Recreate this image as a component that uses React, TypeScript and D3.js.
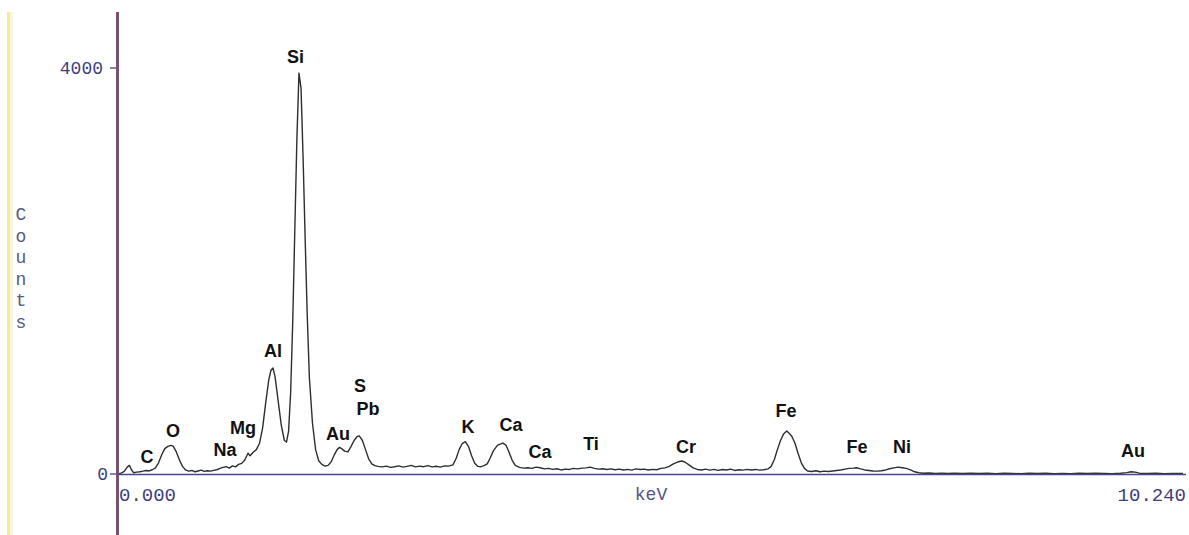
import React from "react";
import * as d3 from "d3";

const W = 1189;
const H = 535;

// energy (keV), counts
const spectrum: [number, number][] = [
  [0.0, 0], [0.03, 8], [0.06, 25], [0.09, 70], [0.11, 85], [0.13, 40], [0.15, 12], [0.18, 18],
  [0.21, 22], [0.24, 28], [0.27, 35], [0.3, 30], [0.33, 42], [0.36, 60], [0.39, 110], [0.42, 190],
  [0.45, 250], [0.48, 272], [0.51, 282], [0.53, 275], [0.56, 220], [0.59, 140], [0.62, 75], [0.65, 40],
  [0.68, 28], [0.71, 35], [0.74, 22], [0.77, 30], [0.8, 38], [0.83, 26], [0.86, 32], [0.89, 28],
  [0.92, 36], [0.95, 42], [0.98, 55], [1.01, 65], [1.04, 72], [1.07, 58], [1.1, 80], [1.13, 70],
  [1.16, 95], [1.19, 105], [1.22, 140], [1.25, 205], [1.27, 180], [1.3, 215], [1.33, 240], [1.36, 300],
  [1.39, 450], [1.42, 700], [1.45, 930], [1.47, 1020], [1.49, 1045], [1.51, 960], [1.54, 720], [1.57, 480],
  [1.6, 330], [1.62, 315], [1.64, 420], [1.66, 800], [1.68, 1500], [1.7, 2400], [1.72, 3300], [1.74, 3950],
  [1.76, 3800], [1.78, 3100], [1.8, 2300], [1.82, 1550], [1.84, 950], [1.87, 500], [1.9, 240], [1.93, 130],
  [1.96, 95], [1.99, 78], [2.02, 85], [2.05, 120], [2.08, 190], [2.11, 245], [2.13, 262], [2.15, 250],
  [2.18, 225], [2.21, 218], [2.24, 270], [2.27, 330], [2.3, 370], [2.32, 375], [2.35, 330], [2.38, 240],
  [2.41, 150], [2.44, 100], [2.47, 82], [2.5, 75], [2.54, 70], [2.58, 78], [2.62, 65], [2.66, 72],
  [2.7, 80], [2.74, 68], [2.78, 75], [2.82, 85], [2.86, 70], [2.9, 78], [2.94, 72], [2.98, 82],
  [3.02, 70], [3.06, 76], [3.1, 68], [3.14, 80], [3.18, 78], [3.22, 90], [3.25, 150], [3.28, 240],
  [3.31, 300], [3.34, 318], [3.37, 270], [3.4, 180], [3.43, 105], [3.46, 75], [3.49, 72], [3.52, 82],
  [3.55, 100], [3.58, 160], [3.61, 230], [3.65, 285], [3.7, 305], [3.73, 285], [3.76, 215], [3.79, 135],
  [3.82, 85], [3.86, 65], [3.9, 58], [3.94, 62], [3.98, 55], [4.02, 68], [4.06, 62], [4.1, 50],
  [4.14, 55], [4.18, 45], [4.22, 52], [4.26, 40], [4.3, 48], [4.34, 45], [4.38, 55], [4.42, 50],
  [4.46, 58], [4.5, 60], [4.54, 68], [4.58, 55], [4.62, 48], [4.66, 52], [4.7, 44], [4.74, 50],
  [4.78, 42], [4.82, 48], [4.86, 40], [4.9, 46], [4.94, 38], [4.98, 50], [5.02, 44], [5.06, 48],
  [5.1, 40], [5.14, 46], [5.18, 42], [5.22, 55], [5.26, 60], [5.3, 75], [5.34, 100], [5.38, 118],
  [5.42, 128], [5.45, 118], [5.49, 90], [5.53, 60], [5.57, 45], [5.61, 40], [5.65, 48], [5.69, 38],
  [5.73, 45], [5.77, 36], [5.81, 44], [5.85, 40], [5.89, 48], [5.93, 35], [5.97, 42], [6.01, 38],
  [6.05, 46], [6.09, 40], [6.13, 45], [6.17, 38], [6.21, 42], [6.25, 50], [6.28, 75], [6.31, 140],
  [6.34, 240], [6.37, 330], [6.4, 395], [6.43, 424], [6.45, 405], [6.48, 370], [6.51, 300], [6.54, 200],
  [6.57, 110], [6.6, 55], [6.63, 30], [6.67, 25], [6.71, 32], [6.75, 22], [6.79, 28], [6.83, 24],
  [6.87, 30], [6.91, 35], [6.95, 40], [6.99, 48], [7.03, 55], [7.07, 58], [7.1, 62], [7.14, 50],
  [7.18, 40], [7.22, 35], [7.26, 30], [7.3, 28], [7.34, 32], [7.38, 40], [7.42, 52], [7.46, 60],
  [7.5, 68], [7.54, 62], [7.58, 55], [7.62, 40], [7.66, 22], [7.7, 12], [7.74, 8], [7.8, 10],
  [7.86, 6], [7.92, 9], [7.98, 5], [8.04, 8], [8.12, 6], [8.2, 9], [8.28, 5], [8.36, 7],
  [8.44, 4], [8.52, 8], [8.6, 6], [8.68, 3], [8.76, 7], [8.84, 5], [8.92, 8], [9.0, 4],
  [9.08, 6], [9.16, 3], [9.24, 7], [9.32, 5], [9.4, 8], [9.48, 6], [9.56, 4], [9.64, 8],
  [9.7, 14], [9.74, 22], [9.78, 18], [9.82, 8], [9.9, 5], [9.98, 7], [10.06, 4], [10.14, 6], [10.24, 5],
];

// element labels: text, energy (keV) of label centre, counts level of label baseline
const labelNames = ["C", "O", "Na", "Mg", "Al", "Si", "Au", "S", "Pb", "K", "Ca", "Ca", "Ti", "Cr", "Fe", "Fe", "Ni", "Au"];
const labelKeV = [0.279, 0.529, 1.029, 1.202, 1.49, 1.707, 2.115, 2.327, 2.404, 3.365, 3.779, 4.058, 4.548, 5.462, 6.423, 7.106, 7.538, 9.76];
const labelCounts = [108, 365, 177, 394, 1153, 4049, 335, 808, 581, 404, 424, 158, 236, 207, 562, 207, 207, 167];

const yTicks = [0, 4000];
const xDomain: [number, number] = [0, 10.24];
const xTickLabels = ["0.000", "keV", "10.240"];
const yTitle = "Counts";

export default function App() {
  const x = d3.scaleLinear().domain(xDomain).range([118, 1183]);
  const y = d3.scaleLinear().domain([0, 4000]).range([474, 68]);
  const line = d3
    .line<[number, number]>()
    .x((d) => x(d[0]))
    .y((d) => y(d[1]))
    .curve(d3.curveLinear);

  const axisColor = "#3e3e80";
  const mono = "'Liberation Mono', 'DejaVu Sans Mono', monospace";

  return (
    <svg
      width={W}
      height={H}
      viewBox={`0 0 ${W} ${H}`}
      style={{ position: "absolute", left: 0, top: 0, background: "#ffffff" }}
    >
      <rect x={0} y={0} width={W} height={H} fill="#ffffff" />
      {/* yellow strip at left */}
      <rect x={7} y={12} width={3} height={H - 12} fill="#f2eb9a" />
      <rect x={10} y={12} width={3} height={H - 12} fill="#faf7d8" />

      {/* y-axis title, stacked letters */}
      {yTitle.split("").map((ch, i) => (
        <text
          key={i}
          x={21}
          y={220 + i * 21.6}
          textAnchor="middle"
          fontFamily={mono}
          fontSize={18}
          fill="#5a5a80"
        >
          {ch}
        </text>
      ))}

      {/* y ticks */}
      {yTicks.map((t) => (
        <g key={t}>
          <line x1={110} x2={117} y1={y(t)} y2={y(t)} stroke={axisColor} strokeWidth={1.3} />
          <text
            x={t === 0 ? 108 : 103}
            y={y(t) + 6}
            textAnchor="end"
            fontFamily={mono}
            fontSize={18}
            fill={axisColor}
          >
            {t}
          </text>
        </g>
      ))}

      {/* x-axis labels */}
      <text x={x(xDomain[0]) + 1} y={501} fontFamily={mono} fontSize={19} fill={axisColor}>
        {xTickLabels[0]}
      </text>
      <text x={651} y={500} textAnchor="middle" fontFamily={mono} fontSize={18} fill="#55558a">
        {xTickLabels[1]}
      </text>
      <text x={1186} y={501} textAnchor="end" fontFamily={mono} fontSize={19} fill={axisColor}>
        {xTickLabels[2]}
      </text>

      {/* spectrum */}
      <path d={line(spectrum) || ""} fill="none" stroke="#2e2e2e" strokeWidth={1.4} strokeLinejoin="round" />

      {/* x axis line */}
      <line x1={x(0)} x2={1186} y1={y(0) + 0.5} y2={y(0) + 0.5} stroke="#45459a" strokeWidth={1.6} />

      {/* y axis line */}
      <line x1={117.5} x2={117.5} y1={12} y2={H} stroke="#8a5a60" strokeWidth={3} />
      <line x1={117.5} x2={117.5} y1={12} y2={H} stroke="#5a50a0" strokeWidth={1.5} />

      {/* element labels */}
      {labelNames.map((n, i) => (
        <text
          key={i}
          x={x(labelKeV[i])}
          y={y(labelCounts[i])}
          textAnchor="middle"
          fontFamily="'Liberation Sans', Arial, sans-serif"
          fontWeight="bold"
          fontSize={18}
          fill="#111111"
        >
          {n}
        </text>
      ))}
    </svg>
  );
}
